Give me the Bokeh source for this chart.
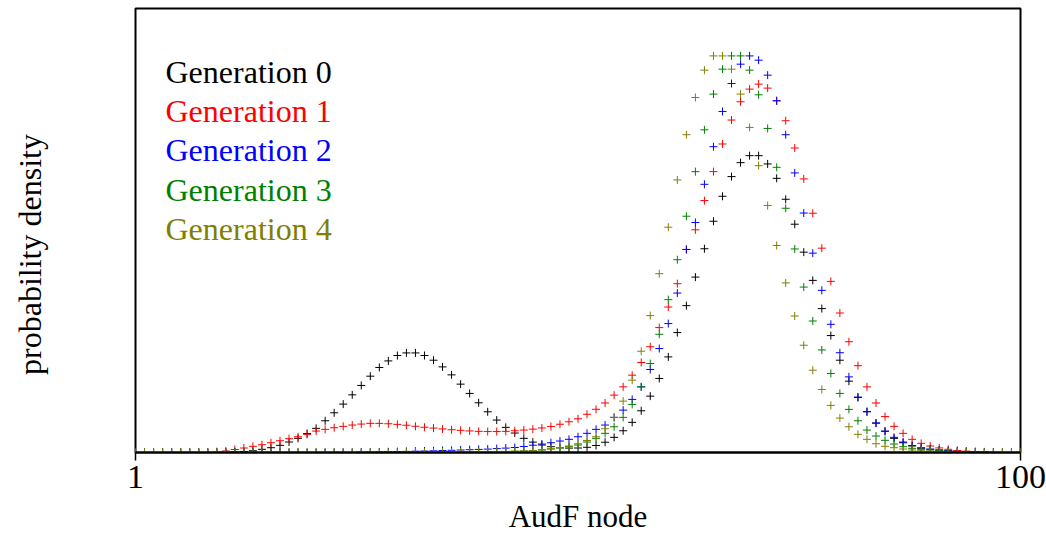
import numpy as np
from bokeh.plotting import figure
from bokeh.models import Range1d, Label, FixedTicker, PrintfTickFormatter
from bokeh.embed import file_html
from bokeh.resources import INLINE

# AudF node grid: 99 log-spaced nodes between 1 and 100
audf_node = np.logspace(0, 2, 99)

# probability density per generation (arbitrary units), one value per node
gen0 = [0, 0, 0, 0, 0, 0, 0, 0, 0, 0,
        0.3, 0.6, 1.0, 1.8, 3.2, 4.8, 7.2, 10.5, 14.2, 19.0,
        24.2, 31.8, 39.8, 48.5, 57.8, 67.2, 76.5, 85.2, 91.8, 97.2,
        99.8, 99.8, 97.2, 92.5, 85.8, 77.8, 68.5, 59.2, 49.8, 40.8,
        32.5, 25.2, 19.5, 14.2, 10.4, 7.5, 5.8, 4.8, 4.4, 4.5,
        5.2, 7.0, 10.3, 15.2, 21.8, 30.2, 41.8, 56.5, 74.2, 95.8,
        120.2, 147.2, 175.8, 204.2, 231.8, 256.8, 276.5, 290.5, 297.5, 297.5,
        289.2, 274.8, 253.8, 228.8, 200.8, 172.5, 144.2, 117.2, 92.5, 71.5,
        55.2, 40.8, 29.5, 21.3, 14.2, 9.8, 6.5, 4.2, 3.2, 2.5,
        1.8, 1.2, 0.8, 0.5, 0.3, 0, 0, 0, 0]

gen1 = [0, 0, 0, 0, 0, 0, 0, 0, 0, 0.8,
        1.5, 3.0, 4.5, 6.2, 7.8, 9.8, 11.8, 13.8, 15.8, 18.2,
        21.5, 23.2, 24.8, 26.2, 27.5, 28.5, 29.2, 29.2, 28.8, 28.2,
        27.3, 26.3, 25.3, 24.5, 23.6, 22.8, 22.2, 21.6, 21.2, 21.0,
        21.0, 21.2, 21.8, 22.5, 23.4, 24.6, 26.0, 28.3, 30.8, 33.8,
        38.3, 43.3, 49.6, 57.5, 65.8, 77.5, 90.2, 106.0, 125.2, 145.8,
        169.2, 203.5, 223.2, 252.5, 281.5, 309.2, 333.2, 351.5, 364.2, 369.2,
        365.2, 352.5, 332.5, 305.2, 274.2, 239.8, 204.8, 171.5, 139.8, 111.0,
        87.0, 65.8, 49.6, 36.0, 26.2, 19.2, 13.2, 9.2, 6.5, 4.6,
        3.2, 2.0, 1.4, 1.0, 0.6, 0.4, 0.2, 0.1, 0]

gen2 = [0, 0, 0, 0, 0, 0, 0, 0, 0, 0,
        0, 0, 0, 0, 0, 0, 0, 0, 0, 0,
        0, 0, 0, 0, 0, 0.3, 0.4, 0.5, 0.7, 0.9,
        1.1, 1.3, 1.5, 1.7, 2.0, 2.2, 2.5, 2.8, 3.1, 3.4,
        3.9, 4.4, 5.0, 6.0, 7.3, 8.5, 9.8, 11.5, 13.2, 15.8,
        19.2, 23.2, 27.5, 35.2, 42.5, 53.2, 65.8, 83.2, 104.2, 129.2,
        159.8, 203.5, 230.5, 268.8, 306.5, 341.8, 369.8, 389.2, 397.5, 393.2,
        378.2, 352.5, 318.5, 280.2, 240.0, 199.8, 162.5, 128.5, 100.0, 75.8,
        55.5, 41.0, 29.5, 21.3, 15.2, 10.5, 7.0, 4.8, 3.4, 2.4,
        1.7, 1.1, 0.7, 0.4, 0.2, 0, 0, 0, 0]

gen3 = [0, 0, 0, 0, 0, 0, 0, 0, 0, 0,
        0, 0, 0, 0, 0, 0, 0, 0, 0, 0,
        0, 0, 0, 0, 0, 0, 0, 0, 0, 0,
        0.2, 0.2, 0.3, 0.3, 0.4, 0.4, 0.5, 0.6, 0.7, 0.8,
        0.9, 1.0, 1.2, 1.5, 1.8, 2.5, 3.5, 4.5, 5.8, 7.5,
        10.5, 14.2, 19.2, 25.8, 35.2, 48.2, 65.8, 89.2, 118.5, 153.2,
        193.2, 236.8, 281.5, 323.4, 359.2, 384.2, 397.5, 397.5, 383.2, 358.5,
        324.8, 285.8, 244.8, 204.0, 165.8, 131.8, 102.8, 79.2, 59.2, 43.2,
        31.8, 22.5, 16.5, 12.2, 8.5, 5.8, 4.2, 3.2, 2.5, 1.8,
        1.3, 0.9, 0.6, 0.4, 0.2, 0, 0, 0, 0]

gen4 = [0, 0, 0, 0, 0, 0, 0, 0, 0, 0,
        0, 0, 0, 0, 0, 0, 0, 0, 0, 0,
        0, 0, 0, 0, 0, 0, 0, 0, 0, 0,
        0.2, 0.2, 0.3, 0.3, 0.4, 0.4, 0.5, 0.6, 0.7, 0.8,
        1.0, 1.1, 1.3, 1.6, 2.0, 2.8, 3.8, 5.0, 6.5, 8.8,
        12.0, 15.8, 23.8, 35.2, 51.5, 72.5, 101.5, 137.2, 179.2, 225.8,
        273.2, 318.5, 355.8, 383.2, 397.5, 397.5, 384.2, 359.2, 325.8, 287.5,
        247.5, 207.5, 170.0, 136.8, 107.5, 82.5, 63.2, 47.2, 34.5, 25.8,
        18.2, 13.2, 8.8, 6.2, 4.8, 3.5, 2.5, 1.8, 1.3, 0.9,
        0.6, 0.4, 0.2, 0, 0, 0, 0, 0, 0]

labels = ["Generation 0", "Generation 1", "Generation 2", "Generation 3", "Generation 4"]
colors = ["#000000", "#ff0000", "#0000ff", "#008000", "#808000"]
densities = [gen0, gen1, gen2, gen3, gen4]
x_ticks = [1, 100]

FONT = "Liberation Serif"
NBSP = "\u00a0"

p = figure(width=1046, height=536, x_axis_type="log",
           x_range=Range1d(1, 100), y_range=Range1d(0, 445),
           output_backend="svg", toolbar_location=None,
           min_border_left=135, min_border_right=26,
           min_border_top=8, min_border_bottom=83)
p.grid.visible = False
p.background_fill_color = "white"
p.border_fill_color = "white"
p.outline_line_color = "black"
p.outline_line_width = 2
p.outline_line_alpha = 1.0

# bottom axis: only the two decade ends are labelled
xa = p.xaxis[0]
xa.ticker = FixedTicker(ticks=x_ticks, minor_ticks=[])
xa.formatter = PrintfTickFormatter(format="%d")
xa.axis_line_color = "black"
xa.axis_line_width = 2
xa.major_tick_out = 8
xa.major_tick_in = 0
xa.major_tick_line_color = "black"
xa.major_tick_line_width = 1.5
xa.minor_tick_line_color = None
xa.major_label_standoff = 5
xa.major_label_text_font = FONT
xa.major_label_text_font_size = "34px"
xa.major_label_text_color = "black"
xa.axis_label = "AudF node"
xa.axis_label_text_font = FONT
xa.axis_label_text_font_size = "31px"
xa.axis_label_text_font_style = "normal"
xa.axis_label_text_color = "black"
xa.axis_label_standoff = 8

# left axis: title only, no ticks or numbers
ya = p.yaxis[0]
ya.ticker = FixedTicker(ticks=[], minor_ticks=[])
ya.axis_line_color = None
ya.major_tick_line_color = None
ya.minor_tick_line_color = None
ya.major_label_text_font_size = "0px"
ya.major_label_standoff = 0
ya.axis_label = "probability density" + NBSP * 6
ya.axis_label_text_font = FONT
ya.axis_label_text_font_size = "32px"
ya.axis_label_text_font_style = "normal"
ya.axis_label_text_color = "black"
ya.axis_label_standoff = 88

for dens, color in zip(densities, colors):
    p.scatter(audf_node, dens, marker="cross", size=8,
              line_color=color, line_width=1)

# legend entries as coloured text
legend_y = [381, 342, 303, 263.5, 224]
for text, color, ly in zip(labels, colors, legend_y):
    p.add_layout(Label(x=1.169, y=ly, text=text, text_color=color,
                       text_font=FONT, text_font_size="32px",
                       text_align="left", text_baseline="alphabetic"))

open("out.html", "w").write(file_html(p, INLINE))
